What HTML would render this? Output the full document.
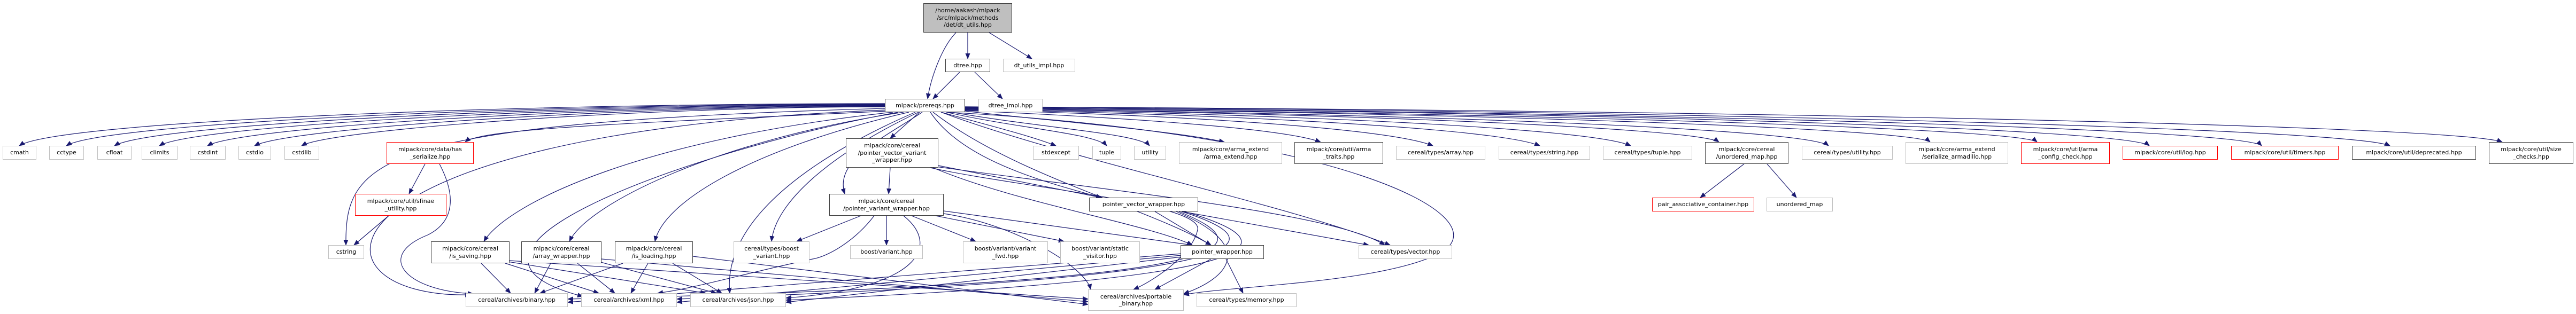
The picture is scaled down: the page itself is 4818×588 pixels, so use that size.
<!DOCTYPE html>
<html><head><meta charset="utf-8">
<style>
html,body{margin:0;padding:0;background:#fff;}
#c{position:relative;width:4818px;height:588px;overflow:hidden;background:#fff;font-family:"DejaVu Sans","Liberation Sans",sans-serif;font-size:11px;color:#000;}
.n{position:absolute;box-sizing:border-box;display:flex;align-items:center;justify-content:center;text-align:center;line-height:13.5px;background:#fff;white-space:nowrap;}
.k{border:1.5px solid #404040;}
.g{border:1.5px solid #bfbfbf;}
.r{border:1.5px solid #ff0000;}
svg{position:absolute;left:0;top:0;}
</style></head><body><div id="c">
<svg width="4818" height="588" viewBox="0 0 4818 588">
<defs><marker id="a" markerWidth="11" markerHeight="9" refX="10" refY="4.5" orient="auto" markerUnits="userSpaceOnUse"><path d="M0,0 L11,4.5 L0,9 z" fill="#191970"/></marker></defs>
<g fill="none" stroke="#191970" stroke-width="1.2" marker-end="url(#a)">
<path d="M1810 61 L1810 110"/>
<path d="M1850 61 L1930 110"/>
<path d="M1788 61 C1760 90 1740 150 1735 185"/>
<path d="M1795 135 L1745 185"/>
<path d="M1823 135 L1875 185"/>
<path d="M1655 194 C900 194 100 230 36 273"/>
<path d="M1655 195 C950 195 190 232 124 273"/>
<path d="M1655 196 C1000 196 280 234 214 273"/>
<path d="M1655 197 C1050 197 360 236 298 273"/>
<path d="M1655 198 C1100 198 450 238 388 273"/>
<path d="M1655 199 C1150 199 540 240 476 273"/>
<path d="M1655 200 C1200 200 620 242 564 273"/>
<path d="M1660 208 C1200 230 900 240 870 266"/>
<path d="M1655 203 C700 230 645 300 647 459"/>
<path d="M1655 206 C550 250 560 560 880 552"/>
<path d="M1670 210 C1200 260 950 380 905 452"/>
<path d="M1690 210 C1350 260 1100 380 1065 452"/>
<path d="M1700 210 C1400 280 1240 380 1225 452"/>
<path d="M1712 210 C1550 280 1350 400 1365 549"/>
<path d="M1718 210 C1550 290 1450 380 1443 452"/>
<path d="M1725 210 C1650 260 1560 300 1580 363"/>
<path d="M1720 210 L1665 259"/>
<path d="M1680 210 C1300 280 760 470 1090 555"/>
<path d="M1740 210 C1800 300 1950 340 2060 370"/>
<path d="M1745 210 C1900 330 2150 390 2265 459"/>
<path d="M1760 210 C2000 300 2400 380 2600 459"/>
<path d="M1770 210 C2500 250 2800 400 2700 470 C2600 530 2300 535 2214 552"/>
<path d="M1760 210 C1850 235 1930 255 1975 273"/>
<path d="M1770 210 C1900 240 2050 250 2070 273"/>
<path d="M1780 210 C1950 240 2130 250 2150 273"/>
<path d="M1805 208 C1950 225 2200 245 2290 266"/>
<path d="M1805 207 C2100 220 2400 240 2470 266"/>
<path d="M1805 206 C2200 215 2600 240 2680 273"/>
<path d="M1805 205 C2300 214 2800 240 2880 273"/>
<path d="M1805 204 C2400 213 2980 240 3050 273"/>
<path d="M1805 203 C2500 212 3180 240 3215 266"/>
<path d="M1805 203 C2600 212 3380 240 3420 273"/>
<path d="M1805 202 C2700 210 3580 240 3610 266"/>
<path d="M1805 202 C2800 210 3780 240 3810 266"/>
<path d="M1805 201 C2900 208 3980 240 4020 273"/>
<path d="M1805 201 C3000 208 4200 240 4230 273"/>
<path d="M1805 200 C3100 206 4400 240 4470 273"/>
<path d="M1805 200 C3200 205 4600 235 4680 266"/>
<path d="M795 307 L765 363"/>
<path d="M822 307 C860 380 840 420 800 440 C700 480 760 545 885 550"/>
<path d="M727 404 L662 459"/>
<path d="M1665 314 L1662 363"/>
<path d="M1755 310 L2060 370"/>
<path d="M1745 314 C1900 380 2150 420 2230 459"/>
<path d="M1750 312 C2100 360 2500 400 2590 459"/>
<path d="M1740 314 C1900 350 2250 380 2240 430 C2230 480 2150 530 2120 542"/>
<path d="M1610 404 L1490 452"/>
<path d="M1658 404 L1658 459"/>
<path d="M1705 404 L1825 452"/>
<path d="M1750 404 L1990 452"/>
<path d="M1765 395 L2230 459"/>
<path d="M1690 404 C1760 460 1720 540 1470 558"/>
<path d="M1635 404 C1600 450 1550 480 1520 485 C1400 510 1300 540 1230 549"/>
<path d="M1765 400 C1900 420 2030 500 2040 542"/>
<path d="M900 493 L955 549"/>
<path d="M945 493 L1120 549"/>
<path d="M950 490 L1320 549"/>
<path d="M953 488 L2035 560"/>
<path d="M1030 493 L1000 549"/>
<path d="M1080 493 L1150 549"/>
<path d="M1120 490 L1340 549"/>
<path d="M1125 485 L2035 565"/>
<path d="M1165 493 L1010 549"/>
<path d="M1212 493 L1180 549"/>
<path d="M1258 493 L1350 549"/>
<path d="M1296 480 L2035 570"/>
<path d="M2160 396 L2265 459"/>
<path d="M2210 396 L2560 459"/>
<path d="M2215 396 C2400 450 2450 520 1470 562"/>
<path d="M2210 396 C2380 450 2420 520 1266 560"/>
<path d="M2205 396 C2360 460 2380 530 1062 560"/>
<path d="M2200 396 C2350 460 2300 520 2214 550"/>
<path d="M2210 475 L1062 566"/>
<path d="M2210 478 L1266 566"/>
<path d="M2210 481 L1470 566"/>
<path d="M2265 485 L2160 542"/>
<path d="M2293 485 L2325 549"/>
<path d="M3262 307 L3180 370"/>
<path d="M3305 307 L3360 370"/>
</g>
</svg>
<div class="n k" style="left:1727px;top:6px;width:166px;height:55px;background:#bfbfbf;">/home/aakash/mlpack<br>/src/mlpack/methods<br>/det/dt_utils.hpp</div>
<div class="n k" style="left:1768px;top:110px;width:84px;height:25px;">dtree.hpp</div>
<div class="n g" style="left:1876px;top:110px;width:135px;height:25px;">dt_utils_impl.hpp</div>
<div class="n k" style="left:1655px;top:185px;width:150px;height:25px;">mlpack/prereqs.hpp</div>
<div class="n g" style="left:1830px;top:185px;width:120px;height:25px;">dtree_impl.hpp</div>
<div class="n g" style="left:5px;top:273px;width:63px;height:26px;">cmath</div>
<div class="n g" style="left:92px;top:273px;width:65px;height:26px;">cctype</div>
<div class="n g" style="left:182px;top:273px;width:64px;height:26px;">cfloat</div>
<div class="n g" style="left:265px;top:273px;width:67px;height:26px;">climits</div>
<div class="n g" style="left:355px;top:273px;width:67px;height:26px;">cstdint</div>
<div class="n g" style="left:446px;top:273px;width:61px;height:26px;">cstdio</div>
<div class="n g" style="left:532px;top:273px;width:65px;height:26px;">cstdlib</div>
<div class="n r" style="left:723px;top:266px;width:163px;height:41px;">mlpack/core/data/has<br>_serialize.hpp</div>
<div class="n k" style="left:1582px;top:259px;width:173px;height:55px;">mlpack/core/cereal<br>/pointer_vector_variant<br>_wrapper.hpp</div>
<div class="n g" style="left:1932px;top:273px;width:86px;height:26px;">stdexcept</div>
<div class="n g" style="left:2043px;top:273px;width:54px;height:26px;">tuple</div>
<div class="n g" style="left:2121px;top:273px;width:60px;height:26px;">utility</div>
<div class="n g" style="left:2205px;top:266px;width:193px;height:41px;">mlpack/core/arma_extend<br>/arma_extend.hpp</div>
<div class="n k" style="left:2421px;top:266px;width:166px;height:41px;">mlpack/core/util/arma<br>_traits.hpp</div>
<div class="n g" style="left:2611px;top:273px;width:167px;height:26px;">cereal/types/array.hpp</div>
<div class="n g" style="left:2803px;top:273px;width:171px;height:26px;">cereal/types/string.hpp</div>
<div class="n g" style="left:2998px;top:273px;width:167px;height:26px;">cereal/types/tuple.hpp</div>
<div class="n k" style="left:3189px;top:266px;width:156px;height:41px;">mlpack/core/cereal<br>/unordered_map.hpp</div>
<div class="n g" style="left:3370px;top:273px;width:170px;height:26px;">cereal/types/utility.hpp</div>
<div class="n g" style="left:3564px;top:266px;width:192px;height:41px;">mlpack/core/arma_extend<br>/serialize_armadillo.hpp</div>
<div class="n r" style="left:3780px;top:266px;width:166px;height:41px;">mlpack/core/util/arma<br>_config_check.hpp</div>
<div class="n r" style="left:3970px;top:273px;width:178px;height:26px;">mlpack/core/util/log.hpp</div>
<div class="n r" style="left:4173px;top:273px;width:201px;height:26px;">mlpack/core/util/timers.hpp</div>
<div class="n k" style="left:4399px;top:273px;width:232px;height:26px;">mlpack/core/util/deprecated.hpp</div>
<div class="n k" style="left:4655px;top:266px;width:158px;height:41px;">mlpack/core/util/size<br>_checks.hpp</div>
<div class="n r" style="left:664px;top:363px;width:171px;height:41px;">mlpack/core/util/sfinae<br>_utility.hpp</div>
<div class="n k" style="left:1551px;top:363px;width:214px;height:41px;">mlpack/core/cereal<br>/pointer_variant_wrapper.hpp</div>
<div class="n k" style="left:2037px;top:370px;width:204px;height:26px;">pointer_vector_wrapper.hpp</div>
<div class="n r" style="left:3090px;top:370px;width:191px;height:26px;">pair_associative_container.hpp</div>
<div class="n g" style="left:3304px;top:370px;width:124px;height:26px;">unordered_map</div>
<div class="n g" style="left:614px;top:459px;width:67px;height:26px;">cstring</div>
<div class="n k" style="left:806px;top:452px;width:147px;height:41px;">mlpack/core/cereal<br>/is_saving.hpp</div>
<div class="n k" style="left:975px;top:452px;width:150px;height:41px;">mlpack/core/cereal<br>/array_wrapper.hpp</div>
<div class="n k" style="left:1150px;top:452px;width:146px;height:41px;">mlpack/core/cereal<br>/is_loading.hpp</div>
<div class="n g" style="left:1372px;top:452px;width:142px;height:41px;">cereal/types/boost<br>_variant.hpp</div>
<div class="n g" style="left:1590px;top:459px;width:136px;height:26px;">boost/variant.hpp</div>
<div class="n g" style="left:1801px;top:452px;width:159px;height:41px;">boost/variant/variant<br>_fwd.hpp</div>
<div class="n g" style="left:1983px;top:452px;width:149px;height:41px;">boost/variant/static<br>_visitor.hpp</div>
<div class="n k" style="left:2208px;top:459px;width:156px;height:26px;">pointer_wrapper.hpp</div>
<div class="n g" style="left:2541px;top:459px;width:175px;height:26px;">cereal/types/vector.hpp</div>
<div class="n g" style="left:871px;top:549px;width:191px;height:26px;">cereal/archives/binary.hpp</div>
<div class="n g" style="left:1087px;top:549px;width:179px;height:26px;">cereal/archives/xml.hpp</div>
<div class="n g" style="left:1291px;top:549px;width:179px;height:26px;">cereal/archives/json.hpp</div>
<div class="n g" style="left:2035px;top:542px;width:179px;height:40px;">cereal/archives/portable<br>_binary.hpp</div>
<div class="n g" style="left:2238px;top:549px;width:187px;height:26px;">cereal/types/memory.hpp</div>
</div></body></html>
